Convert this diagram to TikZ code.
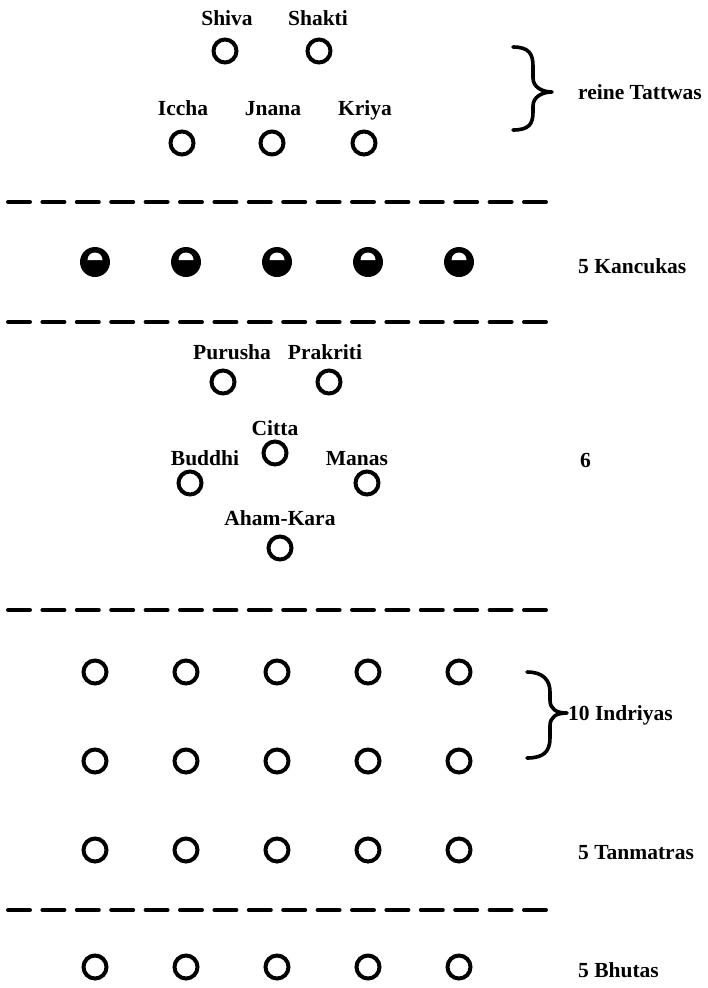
\documentclass[tikz,border=0pt]{standalone}
\usepackage{fontspec}
\setmainfont{Liberation Serif}
\usetikzlibrary{positioning}

\begin{document}
\begin{tikzpicture}[x=1pt,y=-1pt,font=\fontsize{21.5}{25}\selectfont\bfseries,
    ring/.style={circle,draw,line width=4pt,minimum size=23pt,inner sep=0pt},
    halb/.style={circle,fill,minimum size=30pt,inner sep=0pt},
    lab/.style={inner sep=0pt,anchor=base},
    grp/.style={inner sep=0pt,anchor=base west},
    sep/.style={line width=4pt,line cap=round,dash pattern=on 22pt off 12.4pt},
    klammer/.style={line width=3.6pt,line cap=round,line join=round}]
  \useasboundingbox (0,0) rectangle (708,988);
  \node[ring] (shiva) at (225,51) {};
  \node[ring] (shakti) at (319,51) {};
  \node[lab] (shivat) at (227,25) {Shiva};
  \node[lab] (shaktit) at (318,25) {Shakti};
  \foreach \x/\lab/\n in {182/Iccha/iccha,272/Jnana/jnana,364/Kriya/kriya}{
    \node[ring] (\n) at (\x,143) {};
    \node[lab] (\n t) at (\x+1,115) {\lab};}
  \coordinate (b1o) at (513,47);
  \coordinate (b1s) at (552,92);
  \coordinate (b1u) at (513,130);
  \draw[klammer] (b1o) .. controls +(16,0) and +(0,-12) .. (533,66) -- (533,78)
    .. controls +(0,9) and +(-10,0) .. (b1s) .. controls +(-10,0) and +(0,-9) .. (533,106)
    -- (533,112) .. controls +(0,12) and +(16,0) .. (b1u);
  \node[grp] (reine) at (578,99) {reine Tattwas};

  \draw[sep] (8,202) -- (546,202);
  \foreach \x [count=\i] in {95,186,277,368,459}{
    \node[halb] (kan\i) at (\x,262) {};
    \fill[white] ([xshift=-7.5pt,yshift=2pt]kan\i.center) arc[start angle=180,end angle=0,radius=7.5pt] -- cycle;}
  \node[grp] (kanc) at (578,273) {5 Kancukas};
  \draw[sep] (8,322) -- (546,322);

  \node[ring] (purusha) at (223,382) {};
  \node[ring] (prakriti) at (329,382) {};
  \node[lab] (purushat) at (232,359) {Purusha};
  \node[lab] (prakritit) at (325,359) {Prakriti};
  \node[ring] (citta) at (275,453) {};
  \node[lab] (cittat) at (275,435) {Citta};
  \node[ring] (buddhi) at (190,483) {};
  \node[lab] (buddhit) at (205,465) {Buddhi};
  \node[ring] (manas) at (367,483) {};
  \node[lab] (manast) at (357,465) {Manas};
  \node[ring] (aham) at (280,548) {};
  \node[lab] (ahamt) at (280,525) {Aham-Kara};
  \node[grp] (sechs) at (580,467) {6};
  \draw[sep] (8,610) -- (548,610);

  \foreach \y/\r in {672/ind,761/inm,850/tan,967/bhu}
    \foreach \x [count=\i] in {95,186,277,368,459}
      \node[ring] (\r\i) at (\x,\y) {};
  \coordinate (b2o) at (527,672);
  \coordinate (b2s) at (567,713);
  \coordinate (b2u) at (527,758);
  \draw[klammer] (b2o) .. controls +(16,0) and +(0,-12) .. (550,692) -- (550,700)
    .. controls +(0,9) and +(-11,0) .. (b2s) .. controls +(-11,0) and +(0,-9) .. (550,726)
    -- (550,738) .. controls +(0,14) and +(16,0) .. (b2u);
  \node[grp] (indr) at (568,720) {10 Indriyas};
  \node[grp] (tanm) at (578,859) {5 Tanmatras};
  \draw[sep] (8,910) -- (548,910);
  \node[grp] (bhut) at (578,977) {5 Bhutas};
\end{tikzpicture}
\end{document}
